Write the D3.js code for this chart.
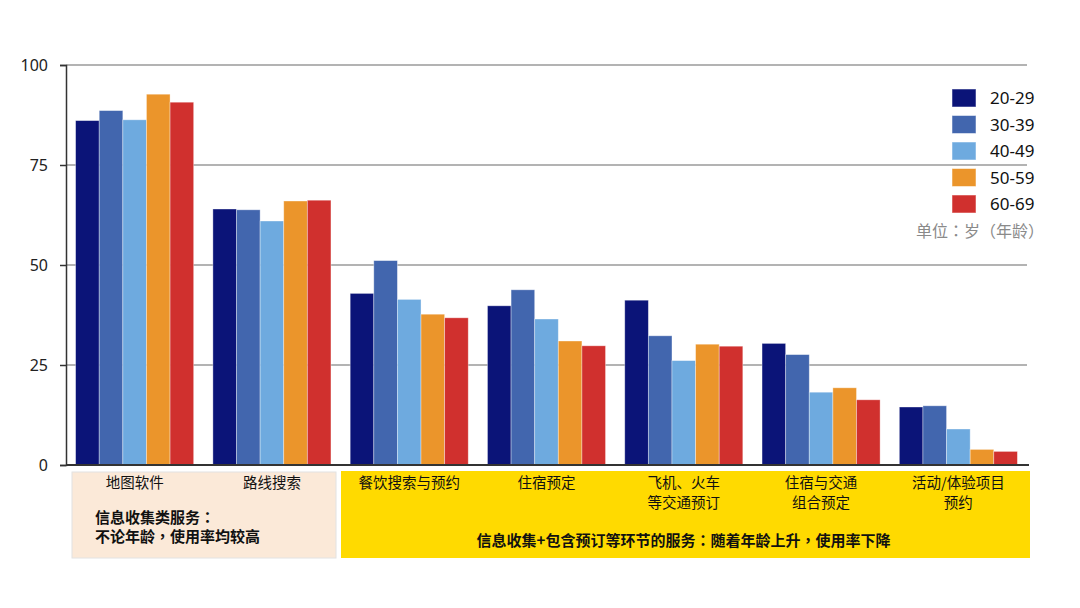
<!DOCTYPE html>
<html>
<head>
<meta charset="utf-8">
<script src="https://cdn.jsdelivr.net/npm/d3@7"></script>
<style>
  html, body { margin: 0; padding: 0; background: #fff; }
  svg { display: block; font-family: "Noto Sans CJK SC", "Noto Sans", sans-serif; }
</style>
</head>
<body>
<svg id="chart"></svg>
<script>
const categories = ["地图软件", "路线搜索", "餐饮搜索与预约", "住宿预定", "飞机、火车|等交通预订", "住宿与交通|组合预定", "活动/体验项目|预约"];
const ageGroups = ["20-29", "30-39", "40-49", "50-59", "60-69"];
const groupColors = ["#0b1478", "#4266ae", "#6eaadf", "#eb952b", "#d0302e"];
// usage per category, one array per age group
const v2029 = [86.1, 64.0, 42.9, 39.8, 41.2, 30.4, 14.5];
const v3039 = [88.6, 63.8, 51.1, 43.8, 32.3, 27.6, 14.8];
const v4049 = [86.3, 61.0, 41.4, 36.5, 26.1, 18.2, 9.0];
const v5059 = [92.7, 66.0, 37.7, 31.0, 30.2, 19.3, 3.9];
const v6069 = [90.7, 66.2, 36.8, 29.8, 29.7, 16.3, 3.4];
const yTicks = [0, 25, 50, 75, 100];
const unitLabel = "单位：岁（年龄）";
const noteLeft = ["信息收集类服务：", "不论年龄，使用率均较高"];
const noteRight = "信息收集+包含预订等环节的服务：随着年龄上升，使用率下降";

const series = [v2029, v3039, v4049, v5059, v6069];

const W = 1080, H = 608;
const margin = { left: 66, right: 53, top: 65, bottom: 143 };
// TC variant centres full-width punctuation like the original
const punctFont = "'Noto Sans CJK TC', 'Noto Sans CJK SC', sans-serif";

const svg = d3.select("#chart").attr("width", W).attr("height", H);

const x0 = d3.scaleBand()
    .domain(categories)
    .range([margin.left, W - margin.right])
    .paddingInner(0.14)
    .paddingOuter(0.07);

const x1 = d3.scaleBand()
    .domain(ageGroups)
    .range([0, x0.bandwidth()]);

const y = d3.scaleLinear()
    .domain([0, 100])
    .range([H - margin.bottom, margin.top]);

// bottom note boxes (behind everything)
const leftBox = [72, 336];
const rightBox = [341, W - margin.right + 3];
svg.append("rect")
    .attr("x", leftBox[0]).attr("y", 472)
    .attr("width", leftBox[1] - leftBox[0]).attr("height", 86)
    .attr("fill", "#fbe9d8")
    .attr("stroke", "#e2e2e2").attr("stroke-width", 1);
svg.append("rect")
    .attr("x", rightBox[0]).attr("y", 471)
    .attr("width", rightBox[1] - rightBox[0]).attr("height", 87)
    .attr("fill", "#ffda00");

// gridlines
svg.append("g")
    .selectAll("line")
    .data(yTicks.filter(d => d > 0))
    .enter()
    .append("line")
    .attr("x1", margin.left).attr("x2", W - margin.right)
    .attr("y1", d => y(d)).attr("y2", d => y(d))
    .attr("stroke", "#9a9a9a").attr("stroke-width", 1.3);

// y axis
const yAxis = svg.append("g")
    .attr("transform", `translate(${margin.left},0)`)
    .call(d3.axisLeft(y).tickValues(yTicks).tickSize(6).tickPadding(12));
yAxis.select(".domain").attr("stroke", "#333").attr("stroke-width", 1.5);
yAxis.selectAll(".tick line").attr("stroke", "#333").attr("stroke-width", 1.5);
yAxis.selectAll(".tick text")
    .attr("font-size", 16)
    .attr("fill", "#222")
    .attr("font-family", "'Noto Sans', 'Open Sans', sans-serif");

// bars
const groups = svg.append("g")
    .selectAll("g")
    .data(categories)
    .enter()
    .append("g")
    .attr("transform", d => `translate(${x0(d)},0)`);

groups.selectAll("rect")
    .data((d, i) => ageGroups.map((a, j) => ({ age: a, value: series[j][i], color: groupColors[j] })))
    .enter()
    .append("rect")
    .attr("x", d => x1(d.age))
    .attr("width", x1.bandwidth())
    .attr("y", d => y(d.value))
    .attr("height", d => y(0) - y(d.value))
    .attr("fill", d => d.color)
    .attr("stroke", "rgba(255,255,255,0.45)")
    .attr("stroke-width", 0.8);

// x axis baseline
svg.append("line")
    .attr("x1", margin.left).attr("x2", W - margin.right + 2)
    .attr("y1", y(0)).attr("y2", y(0))
    .attr("stroke", "#333").attr("stroke-width", 2);

// category labels
const catLabels = svg.append("g")
    .selectAll("text")
    .data(categories)
    .enter()
    .append("text")
    .attr("x", d => x0(d) + x0.bandwidth() / 2)
    .attr("y", 488)
    .attr("text-anchor", "middle")
    .attr("font-size", 14.5)
    .attr("fill", "#111");
catLabels.selectAll("tspan")
    .data(d => d.split("|"))
    .enter()
    .append("tspan")
    .attr("x", function () { return d3.select(this.parentNode).attr("x"); })
    .attr("dy", (d, i) => i === 0 ? 0 : 19.5)
    .text(d => d);

// notes
svg.append("g")
    .selectAll("text")
    .data(noteLeft)
    .enter()
    .append("text")
    .attr("x", 95)
    .attr("y", (d, i) => 523 + i * 19)
    .attr("font-size", 15)
    .attr("font-weight", "bold")
    .attr("font-family", punctFont)
    .attr("fill", "#111")
    .text(d => d);

svg.append("text")
    .attr("x", (rightBox[0] + rightBox[1]) / 2 - 2)
    .attr("y", 546)
    .attr("text-anchor", "middle")
    .attr("font-size", 15)
    .attr("font-weight", "bold")
    .attr("font-family", punctFont)
    .attr("fill", "#111")
    .text(noteRight);

// legend
const legend = svg.append("g")
    .attr("transform", "translate(952, 89)");
const legendRows = legend.selectAll("g")
    .data(ageGroups)
    .enter()
    .append("g")
    .attr("transform", (d, i) => `translate(0, ${i * 26.5})`);
legendRows.append("rect")
    .attr("width", 24).attr("height", 18)
    .attr("fill", (d, i) => groupColors[i])
    .attr("stroke", "rgba(255,255,255,0.5)");
legendRows.append("text")
    .attr("x", 38).attr("y", 15)
    .attr("font-size", 17)
    .attr("fill", "#111")
    .attr("font-family", "'Noto Sans', 'Open Sans', sans-serif")
    .text(d => d);

svg.append("text")
    .attr("x", 916).attr("y", 237)
    .attr("font-size", 16)
    .attr("font-family", punctFont)
    .attr("fill", "#8a8a8a")
    .text(unitLabel);
</script>
</body>
</html>
